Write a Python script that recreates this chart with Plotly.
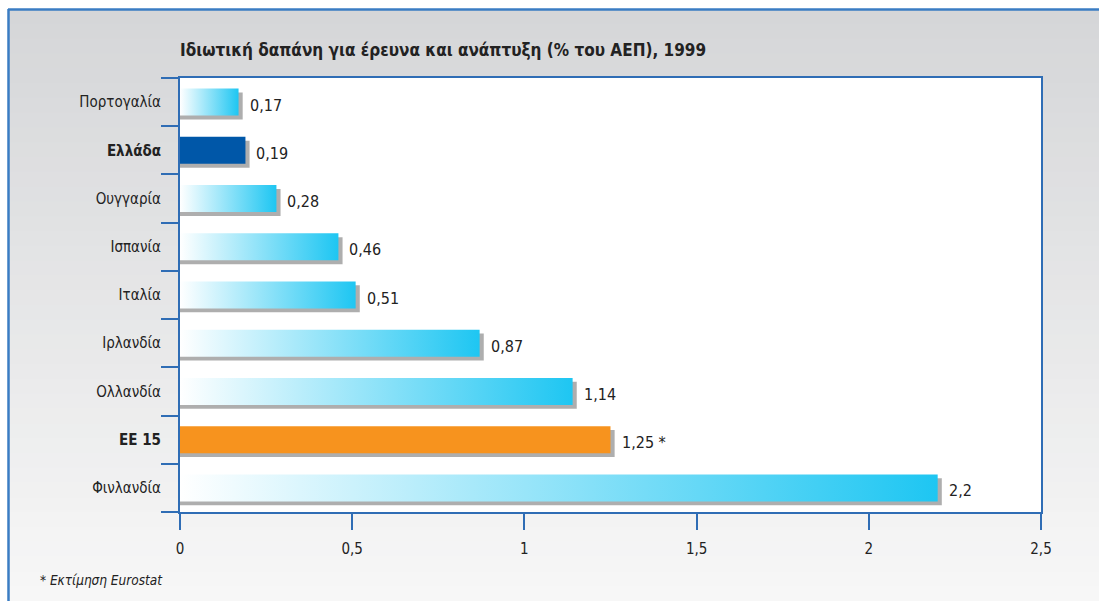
import plotly.graph_objects as go

# ---------------- data ----------------
categories = ["Πορτογαλία", "Ελλάδα", "Ουγγαρία", "Ισπανία", "Ιταλία",
              "Ιρλανδία", "Ολλανδία", "ΕΕ 15", "Φινλανδία"]
values = [0.17, 0.19, 0.28, 0.46, 0.51, 0.87, 1.14, 1.25, 2.2]
bold_categories = ["Ελλάδα", "ΕΕ 15"]
solid_colors = {"Ελλάδα": "#0057a8", "ΕΕ 15": "#f7931e"}
label_suffix = {"ΕΕ 15": " *"}
x_ticks = [0, 0.5, 1, 1.5, 2, 2.5]
title_text = "Ιδιωτική δαπάνη για έρευνα και ανάπτυξη (% του ΑΕΠ), 1999"
footnote_text = "* Εκτίμηση Eurostat"

# ---------------- style ----------------
W, H = 1099, 601
ML, MR, MT, MB = 180, 1099 - 1041, 78, 601 - 512
PW, PH = W - ML - MR, H - MT - MB
FONT = "Liberation Sans Narrow, Arial Narrow, DejaVu Sans Condensed, sans-serif"
AXIS_BLUE = "#2f6db5"
FRAME_BLUE = "#3a7cc3"
GRAD = [[0, "#ffffff"], [1, "#1ec6f2"]]
HALF = 0.28           # half bar thickness (category units)
SH_DX, SH_DY = 0.012, 0.08   # shadow offset (data units)


def pxx(px):
    return (px - ML) / PW


def pxy(py):
    return (H - MB - py) / PH


fig = go.Figure()

for i, (cat, v) in enumerate(zip(categories, values)):
    # shadow
    fig.add_trace(go.Scatter(
        x=[0, v + SH_DX, v + SH_DX, 0, 0],
        y=[i - HALF + SH_DY, i - HALF + SH_DY, i + HALF + SH_DY, i + HALF + SH_DY, i - HALF + SH_DY],
        mode="lines", line=dict(width=0), fill="toself",
        fillcolor="rgba(120,120,120,0.6)", hoverinfo="skip", showlegend=False))
    bx = [0, v, v, 0, 0]
    by = [i - HALF, i - HALF, i + HALF, i + HALF, i - HALF]
    if cat in solid_colors:
        fig.add_trace(go.Scatter(
            x=bx, y=by, mode="lines", line=dict(width=0), fill="toself",
            fillcolor=solid_colors[cat], hoverinfo="skip", showlegend=False))
    else:
        fig.add_trace(go.Scatter(
            x=bx, y=by, mode="lines", line=dict(width=0), fill="toself",
            fillgradient=dict(type="horizontal", colorscale=GRAD),
            hoverinfo="skip", showlegend=False))
    fig.add_annotation(
        x=v, y=i, xref="x", yref="y",
        text=str(v).replace(".", ",") + label_suffix.get(cat, ""),
        showarrow=False, xanchor="left", yanchor="middle",
        xshift=9, yshift=-3,
        font=dict(family=FONT, size=16, color="#222222"))

# background gradient bands
shapes = []
N = 40
top_c = (213, 214, 216)
bot_c = (247, 247, 247)
y_top, y_bot = 9, 601
for k in range(N):
    t = k / (N - 1)
    c = tuple(int(round(top_c[j] + (bot_c[j] - top_c[j]) * t)) for j in range(3))
    y0 = y_top + (y_bot - y_top) * k / N
    y1 = y_top + (y_bot - y_top) * (k + 1) / N
    shapes.append(dict(type="rect", xref="paper", yref="paper",
                       x0=pxx(8), x1=pxx(1102), y0=pxy(y1 + 1), y1=pxy(y0),
                       fillcolor="rgb(%d,%d,%d)" % c, line=dict(width=0), layer="below"))
shapes.append(dict(type="rect", xref="paper", yref="paper", x0=0, x1=1, y0=0, y1=1,
                   fillcolor="white", line=dict(width=0), layer="below"))
# outer frame
shapes.append(dict(type="line", xref="paper", yref="paper",
                   x0=pxx(8), x1=pxx(1102), y0=pxy(9.5), y1=pxy(9.5),
                   line=dict(color=FRAME_BLUE, width=2.5)))
shapes.append(dict(type="line", xref="paper", yref="paper",
                   x0=pxx(8.5), x1=pxx(8.5), y0=pxy(9), y1=pxy(603),
                   line=dict(color=FRAME_BLUE, width=2.5)))

fig.add_annotation(x=pxx(178), y=pxy(50), xref="paper", yref="paper",
                   text="<b>" + title_text + "</b>", showarrow=False,
                   xanchor="left", yanchor="middle",
                   font=dict(family=FONT, size=17, color="#222222"))
fig.add_annotation(x=pxx(38), y=pxy(580), xref="paper", yref="paper",
                   text="<i>" + footnote_text + "</i>", showarrow=False,
                   xanchor="left", yanchor="middle",
                   font=dict(family=FONT, size=13.5, color="#222222"))

ticktext = ["<b>%s</b>" % c if c in bold_categories else c for c in categories]

fig.update_layout(
    width=W, height=H,
    margin=dict(l=ML, r=MR, t=MT, b=MB, pad=0),
    paper_bgcolor="white", plot_bgcolor="white",
    separators=", ",
    shapes=shapes,
    showlegend=False,
    xaxis=dict(range=[0, 2.5], tickvals=x_ticks, ticks="outside", ticklen=16,
               tickwidth=2, tickcolor=AXIS_BLUE, showline=True, linecolor=AXIS_BLUE,
               linewidth=2, mirror=True, showgrid=False, zeroline=False,
               tickfont=dict(family=FONT, size=15, color="#222222"),
               ticklabelstandoff=6),
    yaxis=dict(range=[8.5, -0.5], tickvals=list(range(len(categories))),
               ticktext=ticktext, ticks="", showline=True, linecolor=AXIS_BLUE,
               linewidth=2, mirror=True, showgrid=False, zeroline=False,
               tickfont=dict(family=FONT, size=15, color="#222222"),
               ticklabelstandoff=14,
               minor=dict(tickmode="linear", tick0=0.5, dtick=1, ticks="outside",
                          ticklen=17, tickwidth=2, tickcolor=AXIS_BLUE, showgrid=False)),
)

fig.write_html("out.html",
               config={"displayModeBar": False},
               post_script="document.body.style.margin='0';document.body.style.overflow='hidden';")
